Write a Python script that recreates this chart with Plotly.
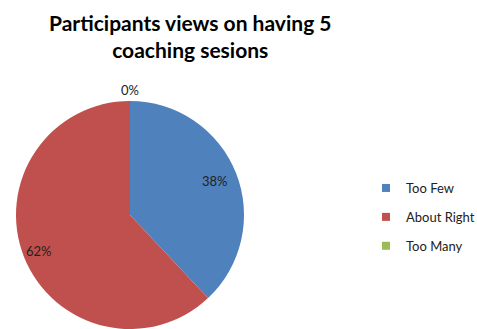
import math
import plotly.graph_objects as go

# Survey responses
categories = ["Too Few", "About Right", "Too Many"]
shares = [38, 62, 0]
colors = ["#4F81BD", "#C0504D", "#9BBB59"]
title_lines = ["Participants views on having 5", "coaching sesions"]

W, H = 477, 329
FONT = "Lato, Open Sans, sans-serif"

# Pie placement (paper fractions)
dom_x = [14 / W, 246 / W]
dom_y = [0.0, 1 - 101 / H]
# Radial position of each percentage label, as a fraction of the radius
label_radius = [0.80, 0.86, 1.10]

fig = go.Figure()

fig.add_trace(go.Pie(
    labels=categories,
    values=shares,
    marker=dict(colors=colors, line=dict(width=0)),
    sort=False,
    direction="clockwise",
    rotation=0,
    textinfo="none",
    showlegend=False,
    hoverinfo="label+percent",
    domain=dict(x=dom_x, y=dom_y),
))

# Percentage labels placed at each slice's mid-angle
pw = (dom_x[1] - dom_x[0]) * W
ph = (dom_y[1] - dom_y[0]) * H
r_px = min(pw, ph) / 2
cx = (dom_x[0] + dom_x[1]) / 2
cy = (dom_y[0] + dom_y[1]) / 2
total = sum(shares)
start = 0.0
for val, f in zip(shares, label_radius):
    mid = (start + val / 2) / total * 2 * math.pi
    start += val
    dx = math.sin(mid) * r_px * f
    dy = math.cos(mid) * r_px * f
    fig.add_annotation(
        x=cx + dx / W, y=cy + dy / H, xref="paper", yref="paper",
        xanchor="center", yanchor="middle",
        text=f"{round(val / total * 100)}%", showarrow=False,
        font=dict(family=FONT, size=13, color="#222222"),
    )

# Chart title
fig.add_annotation(
    x=190 / W, y=1 - 8 / H, xref="paper", yref="paper",
    xanchor="center", yanchor="top", showarrow=False,
    text="<br>".join(title_lines),
    font=dict(family=FONT, size=21, color="#000000", weight="bold"),
)

# Legend entries as square markers, one group each for even spacing
for name, col in zip(categories, colors):
    fig.add_trace(go.Scatter(
        x=[None], y=[None], mode="markers", name=name,
        marker=dict(symbol="square", size=8, color=col),
        legendgroup=name, showlegend=True, hoverinfo="skip",
    ))

fig.update_layout(
    width=W, height=H,
    margin=dict(l=0, r=0, t=0, b=0, autoexpand=False),
    paper_bgcolor="white",
    plot_bgcolor="white",
    xaxis=dict(visible=False),
    yaxis=dict(visible=False),
    legend=dict(
        x=366 / W, xanchor="left",
        y=1 - 173 / H, yanchor="top",
        tracegroupgap=9,
        itemwidth=30,
        font=dict(family=FONT, size=13, color="#222222"),
        bgcolor="rgba(0,0,0,0)",
    ),
)

fig.write_html("out.html")
